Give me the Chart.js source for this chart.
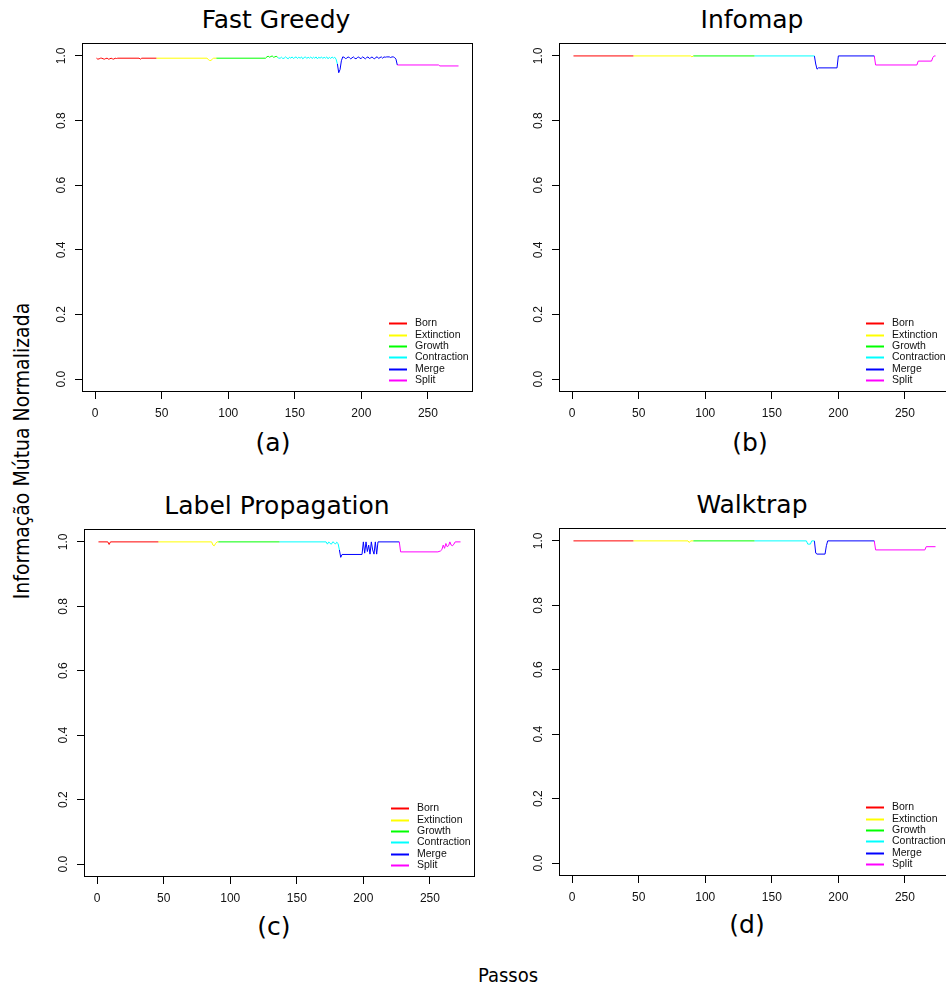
<!DOCTYPE html>
<html>
<head>
<meta charset="utf-8">
<script src="https://cdn.jsdelivr.net/npm/chart.js@4.4.1/dist/chart.umd.min.js"></script>
<style>
  body { margin: 0; width: 946px; height: 987px; overflow: hidden; background: #fff; position: relative; font-family: 'DejaVu Sans', sans-serif; color: #000; }
  canvas { position: absolute; }
  .title, .tag { position: absolute; font-size: 25px; line-height: 25px; white-space: nowrap; transform: translateX(-50%); }
  #xlabel { position: absolute; left: 508px; top: 965px; font-family: 'DejaVu Sans Condensed', 'DejaVu Sans', sans-serif; font-stretch: condensed; font-size: 20px; line-height: 20px; transform: translateX(-50%); white-space: nowrap; }
  #ylabel { position: absolute; left: 22px; top: 451px; font-family: 'DejaVu Sans Condensed', 'DejaVu Sans', sans-serif; font-stretch: condensed; font-size: 21px; line-height: 21px; transform: translate(-50%, -50%) rotate(-90deg); white-space: nowrap; }
</style>
</head>
<body>
<canvas id="chartA" width="439" height="387" style="left:40px; top:37px;"></canvas>
<canvas id="chartB" width="439" height="387" style="left:517px; top:37px;"></canvas>
<canvas id="chartC" width="439" height="386" style="left:42px; top:523px;"></canvas>
<canvas id="chartD" width="439" height="386" style="left:517px; top:522px;"></canvas>

<div class="title" style="left:276px; top:7px;">Fast Greedy</div>
<div class="title" style="left:752px; top:7px;">Infomap</div>
<div class="title" style="left:277px; top:493px;">Label Propagation</div>
<div class="title" style="left:752px; top:492px;">Walktrap</div>
<div class="tag" style="left:273px; top:430px;">(a)</div>
<div class="tag" style="left:750px; top:430px;">(b)</div>
<div class="tag" style="left:274px; top:914px;">(c)</div>
<div class="tag" style="left:747px; top:912px;">(d)</div>
<div id="xlabel">Passos</div>
<div id="ylabel">Informação Mútua Normalizada</div>

<script>
// event types, one line colour each
const categories = ['Born', 'Extinction', 'Growth', 'Contraction', 'Merge', 'Split'];
const colors = ['#ff0000', '#ffff00', '#00ff00', '#00ffff', '#0000ff', '#ff00ff'];
const xTicks = [0, 50, 100, 150, 200, 250];
const yTicks = [0, 0.2, 0.4, 0.6, 0.8, 1.0];

// [passo, NMI]
const fgBorn = [[1,.993],[2,.990],[3,.991],[4,.993],[5,.993],[6,.991],[7,.990],[8,.992],[9,.993],[10,.990],[11,.991],[12,.993],[13,.991],[14,.990],[15,.993],[16,.992],[17,.993],[33,.993],[34,.990],[35,.993],[46,.993]];
const fgExtinction = [[46,.993],[84,.993],[85,.989],[86,.986],[87,.986],[88,.990],[89,.993],[91,.993]];
const fgGrowth = [[91,.993],[128,.993],[129,.997],[130,.999],[131,.996],[132,.998],[133,1.0],[134,.996],[135,.997],[136,.999],[137,.996]];
const fgContraction = [[137,.996],[138,.993],[139,.993],[140,.996],[141,.992],[142,.993],[143,.997],[144,.994],[145,.991],[146,.996],[147,.993],[148,.997],[149,.992],[150,.995],[151,.997],[152,.992],[153,.996],[154,.993],[155,.997],[156,.991],[157,.995],[158,.997],[159,.992],[160,.996],[161,.993],[162,.997],[163,.992],[164,.996],[165,.993],[166,.997],[167,.991],[168,.996],[169,.993],[170,.997],[171,.992],[172,.996],[173,.993],[174,.997],[175,.991],[176,.996],[177,.992],[178,.997],[179,.993],[180,.996],[181,.990],[182,.975]];
const fgMerge = [[182,.975],[183,.948],[184,.958],[185,.985],[186,.997],[187,.996],[188,.992],[189,.993],[190,.997],[191,.995],[192,.991],[193,.994],[194,.997],[195,.993],[196,.991],[197,.995],[198,.997],[199,.992],[200,.993],[201,.997],[202,.994],[203,.991],[204,.995],[205,.997],[206,.992],[207,.994],[208,.997],[209,.993],[210,.991],[211,.996],[212,.997],[213,.992],[214,.995],[215,.997],[216,.993],[217,.997],[218,.996],[219,.997],[220,.997],[221,.997],[222,.995],[223,.997],[224,.997],[225,.995],[226,.990],[227,.972]];
const fgSplit = [[227,.972],[258,.972],[259,.969],[273,.969]];

const imBorn = [[1,1],[46,1]];
const imExtinction = [[46,1],[89,1],[90,.997],[91,1]];
const imGrowth = [[91,1],[137,1]];
const imContraction = [[137,1],[182,1]];
const imMerge = [[182,1],[183,.975],[184,.959],[185,.963],[199,.963],[200,1],[227,1]];
const imSplit = [[227,1],[228,.972],[259,.972],[260,.984],[270,.984],[271,.995],[272,1],[273,1]];

const lpBorn = [[1,1],[8,1],[9,.992],[10,1],[46,1]];
const lpExtinction = [[46,1],[86,1],[87,.990],[88,.988],[89,.995],[90,1],[91,1]];
const lpGrowth = [[91,1],[137,1]];
const lpContraction = [[137,1],[172,1],[173,.993],[174,1],[175,.995],[176,.993],[177,1],[178,.998],[179,.993],[180,.999],[181,.995],[182,.975]];
const lpMerge = [[182,.975],[183,.952],[184,.961],[199,.961],[200,1],[201,.965],[202,1],[203,.970],[204,.990],[205,.962],[206,1],[207,.975],[208,.962],[209,1],[210,.962],[211,1],[227,1]];
const lpSplit = [[227,1],[228,.969],[256,.969],[258,.972],[259,.976],[260,.990],[261,.980],[262,.995],[263,.985],[264,.988],[265,1],[266,.990],[267,.988],[268,.993],[269,1],[273,1]];

const wtBorn = [[1,1],[46,1]];
const wtExtinction = [[46,1],[87,1],[88,.995],[89,1],[91,1]];
const wtGrowth = [[91,1],[137,1]];
const wtContraction = [[137,1],[176,1],[177,.990],[179,.990],[180,1],[182,1]];
const wtMerge = [[182,1],[183,.962],[184,.959],[190,.959],[191,.985],[192,1],[227,1]];
const wtSplit = [[227,1],[228,.972],[265,.972],[266,.982],[273,.982]];

// R pads the axis range by 4% on each side (passos 1..273, NMI 0..1)
const xMin = -9.88, xMax = 283.88;
const yMin = -0.04, yMax = 1.04;

// box around the plot and the R style legend in the lower right corner
const frameAndLegend = {
    id: 'frameAndLegend',
    afterDraw(chart) {
        const ctx = chart.ctx;
        const a = chart.chartArea;
        ctx.save();
        ctx.strokeStyle = '#000';
        ctx.lineWidth = 1;
        ctx.strokeRect(a.left + 0.5, a.top + 0.5, a.right - a.left - 1, a.bottom - a.top - 1);

        ctx.font = '10.5px "Liberation Sans", Arial, sans-serif';
        ctx.textBaseline = 'middle';
        const n = chart.data.datasets.length;
        chart.data.datasets.forEach((ds, i) => {
            const y = Math.round(a.bottom - 12 - (n - 1 - i) * 11.35) + 0.5;
            ctx.strokeStyle = ds.borderColor;
            ctx.lineWidth = 2;
            ctx.beginPath();
            ctx.moveTo(a.right - 84, y);
            ctx.lineTo(a.right - 66, y);
            ctx.stroke();
            ctx.fillStyle = '#111';
            ctx.fillText(ds.label, a.right - 58, y);
        });
        ctx.restore();
    }
};

function makeChart(id, series) {
    const ctx = document.getElementById(id).getContext('2d');
    return new Chart(ctx, {
        type: 'line',
        data: {
            datasets: series.map((pts, i) => ({
                label: categories[i],
                data: pts.map(p => ({ x: p[0], y: p[1] })),
                borderColor: colors[i],
                borderWidth: 1,
                pointRadius: 0,
                tension: 0,
                fill: false
            }))
        },
        options: {
            responsive: false,
            animation: false,
            layout: { padding: { top: 6, right: 6, left: 0, bottom: 0 } },
            plugins: {
                legend: { display: false },
                title: { display: false },
                tooltip: { enabled: false }
            },
            scales: {
                x: {
                    type: 'linear',
                    min: xMin,
                    max: xMax,
                    afterBuildTicks: scale => { scale.ticks = xTicks.map(v => ({ value: v })); },
                    afterFit: scale => { scale.height = 32; scale.paddingLeft = 0; scale.paddingRight = 0; },
                    border: { display: false },
                    grid: { drawOnChartArea: false, drawTicks: true, tickLength: 7, color: '#000' },
                    ticks: {
                        padding: 7,
                        color: '#111',
                        maxRotation: 0,
                        font: { family: '"Liberation Sans", Arial, sans-serif', size: 12 },
                        callback: v => String(v)
                    }
                },
                y: {
                    type: 'linear',
                    min: yMin,
                    max: yMax,
                    afterBuildTicks: scale => { scale.ticks = yTicks.map(v => ({ value: v })); },
                    afterFit: scale => { scale.width = 42; scale.paddingTop = 0; scale.paddingBottom = 0; },
                    border: { display: false },
                    grid: { drawOnChartArea: false, drawTicks: true, tickLength: 7, color: '#000' },
                    ticks: {
                        padding: 5,
                        color: '#111',
                        minRotation: 90,
                        maxRotation: 90,
                        crossAlign: 'center',
                        font: { family: '"Liberation Sans", Arial, sans-serif', size: 12 },
                        callback: v => v.toFixed(1)
                    }
                }
            }
        },
        plugins: [frameAndLegend]
    });
}

makeChart('chartA', [fgBorn, fgExtinction, fgGrowth, fgContraction, fgMerge, fgSplit]);
makeChart('chartB', [imBorn, imExtinction, imGrowth, imContraction, imMerge, imSplit]);
makeChart('chartC', [lpBorn, lpExtinction, lpGrowth, lpContraction, lpMerge, lpSplit]);
makeChart('chartD', [wtBorn, wtExtinction, wtGrowth, wtContraction, wtMerge, wtSplit]);
</script>
</body>
</html>
